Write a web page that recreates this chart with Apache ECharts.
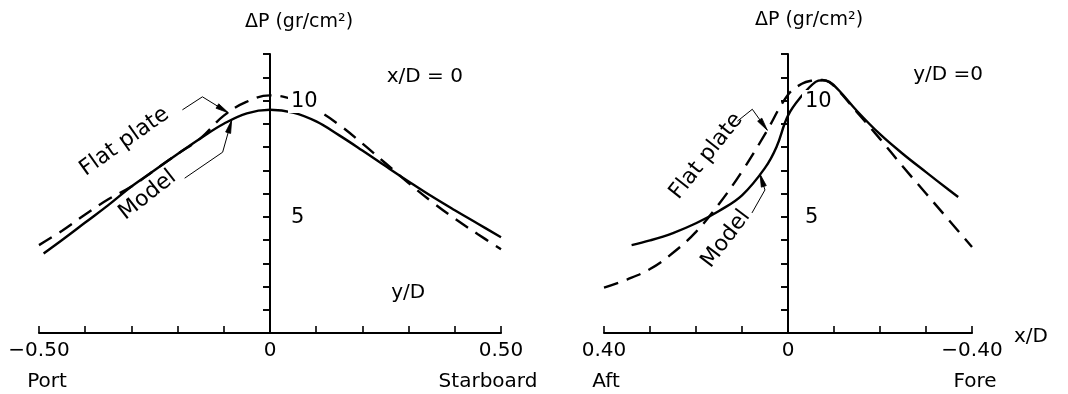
<!DOCTYPE html>
<html>
<head>
<meta charset="utf-8">
<script src="https://cdn.jsdelivr.net/npm/echarts@6/dist/echarts.min.js"></script>
<style>
  html, body { margin: 0; padding: 0; background: #fff; }
  #chart { width: 1068px; height: 394px; }
</style>
</head>
<body>
<div id="chart"></div>
<script>
// Pressure rise ΔP (gr/cm²) under the model, two sections.

// Section x/D = 0, plotted against y/D (port to starboard)
const transverseModelX = [-0.49, -0.45, -0.40, -0.35, -0.30, -0.25, -0.20, -0.15, -0.10, -0.05, 0, 0.05, 0.10, 0.15, 0.20, 0.25, 0.30, 0.35, 0.40, 0.45, 0.50];
const transverseModelP = [3.42, 4.0, 4.75, 5.5, 6.3, 7.0, 7.7, 8.38, 9.0, 9.45, 9.6, 9.48, 9.1, 8.5, 7.85, 7.18, 6.52, 5.88, 5.28, 4.7, 4.12];
const transverseFlatX  = [-0.50, -0.45, -0.40, -0.35, -0.30, -0.25, -0.20, -0.15, -0.10, -0.05, 0, 0.05, 0.10, 0.15, 0.20, 0.25, 0.30, 0.35, 0.40, 0.45, 0.50];
const transverseFlatP  = [3.78, 4.4, 5.1, 5.75, 6.3, 7.0, 7.7, 8.38, 9.35, 9.95, 10.22, 10.05, 9.6, 8.95, 8.15, 7.3, 6.45, 5.65, 4.92, 4.25, 3.6];

// Section y/D = 0, plotted against x/D (aft to fore)
const longModelX = [0.34, 0.30, 0.25, 0.20, 0.15, 0.10, 0.05, 0.025, 0, -0.03, -0.06, -0.075, -0.09, -0.11, -0.15, -0.20, -0.25, -0.30, -0.35, -0.37];
const longModelP = [3.78, 3.98, 4.3, 4.72, 5.25, 5.92, 7.1, 8.0, 9.35, 10.2, 10.8, 10.87, 10.8, 10.45, 9.55, 8.55, 7.7, 6.92, 6.15, 5.85];
const longFlatX  = [0.40, 0.35, 0.30, 0.25, 0.20, 0.15, 0.10, 0.05, 0, -0.03, -0.05, -0.075, -0.09, -0.11, -0.15, -0.20, -0.25, -0.30, -0.35, -0.40];
const longFlatP  = [1.95, 2.3, 2.75, 3.45, 4.35, 5.55, 6.95, 8.55, 10.25, 10.72, 10.85, 10.88, 10.78, 10.42, 9.5, 8.35, 7.15, 6.0, 4.85, 3.7];

// Tick labels
const transverseTickValues = [-0.5, 0, 0.5];
const transverseTickLabels = ['\u22120.50', '0', '0.50'];
const longTickValues = [0.4, 0, -0.4];
const longTickLabels = ['0.40', '0', '\u22120.40'];
const pressureTickValues = [5, 10];
const pressureTickLabels = ['5', '10'];

const FONT = '"DejaVu Sans", "Liberation Sans", sans-serif';
const INK = '#000';

const chart = echarts.init(document.getElementById('chart'), null, { renderer: 'canvas' });

function zip(xs, ys) { return xs.map((x, i) => [x, ys[i]]); }

function labelFrom(values, labels) {
  return function (v) {
    for (let i = 0; i < values.length; i++) {
      if (Math.abs(v - values[i]) < 1e-6) return labels[i];
    }
    return '';
  };
}

function xAxisCfg(gridIndex, min, max, inverse, values, labels) {
  return {
    type: 'value', gridIndex, min, max, interval: 0.1, inverse,
    axisLine: { show: true, onZero: false, lineStyle: { color: INK, width: 2 } },
    axisTick: { show: true, inside: true, length: 7, lineStyle: { color: INK, width: 1.6 } },
    splitLine: { show: false },
    axisLabel: {
      margin: 8, fontSize: 20, color: INK, fontFamily: FONT,
      showMinLabel: true, showMaxLabel: true,
      formatter: labelFrom(values, labels)
    }
  };
}

// Pressure axis: one axis draws the line and outer ticks, a twin draws the inner ticks
function yAxisMain(gridIndex, xIndex) {
  return {
    type: 'value', gridIndex, min: 0, max: 12, interval: 1, z: 3,
    axisLine: { show: true, onZero: true, onZeroAxisIndex: xIndex, lineStyle: { color: INK, width: 2 } },
    axisTick: { show: true, inside: false, length: 7, lineStyle: { color: INK, width: 1.6 } },
    splitLine: { show: false },
    axisLabel: { show: false }
  };
}

function yAxisInner(gridIndex, xIndex) {
  return {
    type: 'value', gridIndex, min: 0, max: 12, interval: 1, z: 3,
    axisLine: { show: false, onZero: true, onZeroAxisIndex: xIndex },
    axisTick: { show: true, inside: true, length: 7, lineStyle: { color: INK, width: 1.6 } },
    splitLine: { show: false },
    axisLabel: { show: false }
  };
}

function curve(xIndex, yIndex, xs, ys, dashed) {
  return {
    type: 'line', xAxisIndex: xIndex, yAxisIndex: yIndex,
    data: zip(xs, ys), smooth: 0.4, showSymbol: false, silent: true,
    lineStyle: { color: INK, width: 2.4, type: dashed ? [15, 9] : 'solid', cap: 'butt' }
  };
}

chart.setOption({
  animation: false,
  backgroundColor: '#fff',
  grid: [
    { left: 39, top: 54, width: 462, height: 279 },
    { left: 604, top: 54, width: 368, height: 279 }
  ],
  xAxis: [
    xAxisCfg(0, -0.5, 0.5, false, transverseTickValues, transverseTickLabels),
    xAxisCfg(1, -0.4, 0.4, true, longTickValues, longTickLabels)
  ],
  yAxis: [
    yAxisMain(0, 0),
    yAxisInner(0, 0),
    yAxisMain(1, 1),
    yAxisInner(1, 1)
  ],
  series: [
    curve(0, 0, transverseFlatX, transverseFlatP, true),
    curve(0, 0, transverseModelX, transverseModelP, false),
    curve(1, 2, longFlatX, longFlatP, true),
    curve(1, 2, longModelX, longModelP, false)
  ]
});

// ---- annotations ----
function yAt(xs, ys, x) {
  for (let i = 0; i < xs.length - 1; i++) {
    const a = xs[i], b = xs[i + 1];
    if ((x - a) * (x - b) <= 0) {
      const t = (x - a) / (b - a);
      return ys[i] + t * (ys[i + 1] - ys[i]);
    }
  }
  return ys[ys.length - 1];
}
function toPx(panel, pt) {
  return panel === 0
    ? chart.convertToPixel({ xAxisIndex: 0, yAxisIndex: 0 }, pt)
    : chart.convertToPixel({ xAxisIndex: 1, yAxisIndex: 2 }, pt);
}
function text(str, x, y, size, rot, align, bg) {
  const style = {
    text: str, fill: INK, font: size + 'px ' + FONT,
    align: align || 'center', verticalAlign: 'middle',
    textAlign: align || 'center', textVerticalAlign: 'middle'
  };
  if (bg) { style.backgroundColor = bg; style.padding = [1, 3, 1, 3]; }
  return { type: 'text', x, y, rotation: rot || 0, silent: true, z: 10, style };
}

const leaders = [
  { panel: 0, xs: transverseFlatX, ys: transverseFlatP, at: -0.09, path: [[-46, -3], [-26, -16]], label: 'Flat plate', lab: [-104, 29], deg: 35.2 },
  { panel: 0, xs: transverseModelX, ys: transverseModelP, at: -0.083, path: [[-47, 58], [-9, 32]], label: 'Model', lab: [-84, 75], deg: 38.3 },
  { panel: 1, xs: longFlatX, ys: longFlatP, at: 0.045, path: [[-30, -9], [-15, -21]], label: 'Flat plate', lab: [-61, 26], deg: 51.5 },
  { panel: 1, xs: longModelX, ys: longModelP, at: 0.061, path: [[-8, 39], [5, 16]], label: 'Model', lab: [-34, 65], deg: 52.8 }
];

const elements = [];
leaders.forEach(function (d) {
  const tip = toPx(d.panel, [d.at, yAt(d.xs, d.ys, d.at)]);
  const pts = d.path.map(p => [tip[0] + p[0], tip[1] + p[1]]).concat([tip]);
  elements.push({ type: 'polyline', silent: true, z: 10, shape: { points: pts }, style: { stroke: INK, lineWidth: 1, fill: null } });
  // arrowhead along the last leg
  const from = pts[pts.length - 2];
  const dx = tip[0] - from[0], dy = tip[1] - from[1];
  const len = Math.sqrt(dx * dx + dy * dy);
  const ux = dx / len, uy = dy / len;
  const L = 13, W = 2.6;
  const bx = tip[0] - ux * L, by = tip[1] - uy * L;
  elements.push({
    type: 'polygon', silent: true, z: 10,
    shape: { points: [tip, [bx - uy * W, by + ux * W], [bx + uy * W, by - ux * W]] },
    style: { fill: INK, stroke: INK, lineWidth: 0.8 }
  });
  elements.push(text(d.label, tip[0] + d.lab[0], tip[1] + d.lab[1], 22, d.deg * Math.PI / 180));
});

// pressure tick labels, to the right of each axis, masking the curves behind them
[[0, 18], [1, 14]].forEach(function (cfg) {
  pressureTickValues.forEach(function (v, i) {
    const q = toPx(cfg[0], [0, v]);
    elements.push(text(pressureTickLabels[i], q[0] + cfg[1], q[1] + 1, 21, 0, 'left', '#fff'));
  });
});

// axis titles and section labels
const topL = toPx(0, [0, 12]);
const topR = toPx(1, [0, 12]);
elements.push(text('\u0394P (gr/cm\u00B2)', topL[0] + 29, topL[1] - 32, 19));
elements.push(text('\u0394P (gr/cm\u00B2)', topR[0] + 21, topR[1] - 34, 19));

let p = toPx(0, [0.335, 11.0]);
elements.push(text('x/D = 0', p[0], p[1], 20));
p = toPx(0, [0.299, 1.72]);
elements.push(text('y/D', p[0], p[1], 20));
p = toPx(1, [-0.348, 11.1]);
elements.push(text('y/D =0', p[0], p[1], 20));
p = toPx(1, [-0.4, 0]);
elements.push(text('x/D', p[0] + 59, p[1] + 4, 20));

// direction names under the end ticks
p = toPx(0, [-0.5, 0]);
elements.push(text('Port', p[0] + 8, p[1] + 49, 20));
p = toPx(0, [0.5, 0]);
elements.push(text('Starboard', p[0] - 13, p[1] + 49, 20));
p = toPx(1, [0.4, 0]);
elements.push(text('Aft', p[0] + 2, p[1] + 49, 20));
p = toPx(1, [-0.4, 0]);
elements.push(text('Fore', p[0] + 3, p[1] + 49, 20));

chart.setOption({ graphic: { elements } });
</script>
</body>
</html>
